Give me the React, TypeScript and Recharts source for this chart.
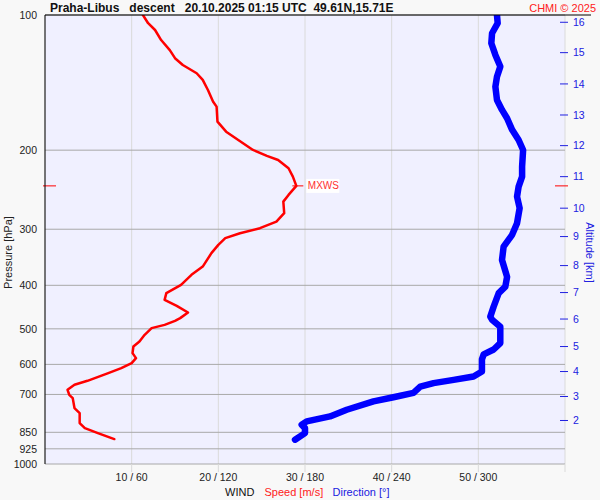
import React from 'react';
import {
  ScatterChart,
  Scatter,
  XAxis,
  YAxis,
  CartesianGrid,
  ReferenceLine,
  ReferenceDot,
} from 'recharts';

// Wind speed profile (pressure hPa -> speed m/s)
const speedLevels = [
  100, 104.3, 108.0, 113.7, 119.7, 124.8, 129.2, 134.8, 139.5, 146.9, 156.0, 160.0, 172.8,
  181.9, 189.8, 199.8, 206.0, 210.3, 219.4, 229.1, 240.2, 251.6, 260.4, 276.3, 288.5, 298.4,
  306.2, 314.1, 325.1, 339.2, 363.3, 379.1, 399.0, 416.4, 430.9, 444.4, 459.9, 473.3, 480.0,
  489.9, 498.2, 515.6, 533.6, 547.5, 566.4, 581.0, 596.1, 611.6, 627.5, 652.7, 666.2, 683.5,
  701.2, 713.2, 750.7, 770.2, 810.7, 831.8, 853.4, 880.0,
];
const speedValues = [
  11.3, 11.9, 12.7, 13.4, 14.4, 15.0, 15.9, 17.5, 18.2, 18.8, 19.4, 19.8, 19.9,
  20.9, 22.3, 24.0, 25.6, 26.9, 28.1, 28.6, 29.0, 28.1, 27.5, 27.6, 26.7, 24.8,
  22.5, 20.8, 20.0, 19.2, 18.2, 16.9, 15.7, 14.0, 13.8, 15.2, 16.5, 15.6, 15.0,
  13.8, 12.3, 11.5, 10.9, 10.2, 10.1, 10.5, 10.0, 8.8, 7.3, 4.9, 3.4, 2.6,
  2.8, 3.2, 3.4, 4.0, 4.0, 4.6, 6.1, 8.0,
];

// Wind direction profile (pressure hPa -> direction deg)
const dirLevels = [
  100, 104.3, 109.8, 115.6, 122.7, 130.3, 137.2, 144.4, 154.6, 162.7, 169.8, 180.2, 189.8,
  199.8, 217.6, 229.1, 241.1, 253.8, 269.2, 290.8, 308.7, 327.9, 351.2, 383.0, 402.6, 416.4,
  446.2, 469.6, 477.4, 494.6, 537.8, 555.8, 570.1, 584.7, 622.3, 638.3, 649.6, 660.6, 672.2,
  694.1, 710.2, 725.2, 757.2, 783.5, 803.7, 817.5, 832.0, 853.4, 882.8,
];
const dirValues = [
  312.9, 313.4, 309.5, 309.0, 311.8, 315.2, 312.9, 311.8, 312.9, 316.4, 319.9, 323.4, 327.9,
  331.0, 330.3, 330.3, 327.9, 326.8, 328.6, 326.8, 323.4, 317.5, 316.4, 319.9, 318.7, 314.1,
  310.6, 308.3, 309.5, 315.2, 315.2, 310.6, 303.7, 302.5, 302.5, 296.7, 282.9, 269.0, 259.8,
  255.1, 241.2, 227.4, 208.9, 197.3, 181.2, 177.7, 180.0, 180.0, 173.1,
];

const pressureTicks = [100, 200, 300, 400, 500, 600, 700, 850, 925, 1000];
const speedTicks = [10, 20, 30, 40, 50, 60];
const speedTickLabels = ['10 / 60', '20 / 120', '30 / 180', '40 / 240', '50 / 300', ''];
const altitudeKm = [2, 3, 4, 5, 6, 7, 8, 9, 10, 11, 12, 13, 14, 15, 16];
const altitudePressure = [
  800.0, 707.4, 622.4, 547.5, 475.5, 415.1, 361.5, 311.5, 269.3, 229.1, 195.4, 167.0, 142.4,
  121.3, 103.8,
];
const mxwsPressure = 240.2;
const mxwsSpeed = 29.0;

const speedData = speedLevels.map((p, i) => ({ p, s: speedValues[i] }));
const dirData = dirLevels.map((p, i) => ({ p, d: dirValues[i] }));

const BLUE_TEXT = '#2020e0';
const FONT = '"Liberation Sans", Arial, Helvetica, sans-serif';

const AltTick = (props: any) => {
  const { x, y, payload } = props;
  let idx = 0;
  let best = Infinity;
  altitudePressure.forEach((p, i) => {
    const d = Math.abs(p - payload.value);
    if (d < best) {
      best = d;
      idx = i;
    }
  });
  return (
    <g>
      <line x1={x - 13} x2={x - 5} y1={y} y2={y} stroke={BLUE_TEXT} strokeWidth={1} />
      <text x={x} y={y} dy="0.36em" fill={BLUE_TEXT} fontSize={10.5} textAnchor="start">
        {altitudeKm[idx]}
      </text>
    </g>
  );
};

const MxwsShape = (props: any) => {
  const { cx, cy } = props;
  return (
    <g>
      <line x1={cx - 4} x2={cx + 7} y1={cy} y2={cy} stroke="#ff0000" strokeWidth={1} />
      <rect x={cx + 10} y={cy - 7} width={33} height={14} fill="#ffffff" />
      <text x={cx + 11.5} y={cy} dy="0.36em" fill="#ff3030" fontSize={10}>
        MXWS
      </text>
    </g>
  );
};

const MxwsEdges = (props: any) => {
  const { x1, x2, y1 } = props;
  return (
    <g>
      <line x1={x1 - 2} x2={x1 + 11} y1={y1} y2={y1} stroke="#ff0000" strokeWidth={1} />
      <line x1={x2 - 10} x2={x2 + 3} y1={y1} y2={y1} stroke="#ff0000" strokeWidth={1} />
    </g>
  );
};

export default function App() {
  return (
    <div
      style={{
        position: 'absolute',
        left: 0,
        top: 0,
        width: 600,
        height: 500,
        background: '#f8f8f8',
        fontFamily: FONT,
      }}
    >
      <ScatterChart width={600} height={500} margin={{ top: 15, right: 0, bottom: 0, left: 0 }}>
        <CartesianGrid
          xAxisId="spd"
          yAxisId="p"
          horizontal={false}
          stroke="#dadada"
          fill="#f0f0ff"
          fillOpacity={1}
        />
        <CartesianGrid xAxisId="spd" yAxisId="p" vertical={false} stroke="#a8a8a8" />
        <XAxis
          xAxisId="spd"
          dataKey="s"
          type="number"
          domain={[0, 60]}
          ticks={speedTicks}
          interval={0}
          allowDataOverflow
          tickFormatter={(v: number) => speedTickLabels[speedTicks.indexOf(v)] ?? ''}
          axisLine={false}
          tickLine={{ stroke: '#dadada' }}
          tickSize={8}
          tickMargin={2}
          tick={{ fill: '#222', fontSize: 10.5 }}
          height={36}
        />
        <XAxis
          xAxisId="dir"
          dataKey="d"
          type="number"
          domain={[0, 360]}
          allowDataOverflow
          hide
          height={0}
        />
        <YAxis
          yAxisId="p"
          dataKey="p"
          type="number"
          scale="log"
          domain={[100, 1000]}
          reversed
          allowDataOverflow
          ticks={pressureTicks}
          interval={0}
          axisLine={{ stroke: '#000' }}
          tickLine={false}
          tick={{ fill: '#222', fontSize: 10.5 }}
          width={45}
        />
        <YAxis
          yAxisId="alt"
          dataKey="p"
          orientation="right"
          type="number"
          scale="log"
          domain={[100, 1000]}
          reversed
          allowDataOverflow
          ticks={altitudePressure}
          interval={0}
          axisLine={false}
          tickLine={false}
          tick={<AltTick />}
          width={35}
        />
        <Scatter
          xAxisId="dir"
          yAxisId="p"
          data={dirData}
          fill="#0000ff"
          line={{ stroke: '#0000ff', strokeWidth: 6.5, strokeLinejoin: 'round', strokeLinecap: 'round' }}
          shape={() => <g />}
          isAnimationActive={false}
          legendType="none"
        />
        <Scatter
          xAxisId="spd"
          yAxisId="p"
          data={speedData}
          fill="#ff0000"
          line={{ stroke: '#ff0000', strokeWidth: 2.5, strokeLinejoin: 'round', strokeLinecap: 'round' }}
          shape={() => <g />}
          isAnimationActive={false}
          legendType="none"
        />
        <ReferenceLine
          xAxisId="spd"
          yAxisId="p"
          y={mxwsPressure}
          ifOverflow="visible"
          shape={(props: any) => <MxwsEdges {...props} />}
        />
        <ReferenceDot
          xAxisId="spd"
          yAxisId="p"
          x={mxwsSpeed}
          y={mxwsPressure}
          ifOverflow="visible"
          shape={(props: any) => <MxwsShape {...props} />}
        />
      </ScatterChart>
      <svg
        width={600}
        height={500}
        style={{ position: 'absolute', left: 0, top: 0, pointerEvents: 'none', fontFamily: FONT }}
      >
        <line x1={45} x2={591} y1={15} y2={15} stroke="#000" strokeWidth={1.2} />
        <text x={50} y={11.5} fontSize={12} fontWeight="bold" fill="#111" style={{ whiteSpace: 'pre' }}>
          {'Praha-Libus   descent   20.10.2025 01:15 UTC  49.61N,15.71E'}
        </text>
        <text x={596} y={11.5} fontSize={11} fill="#ff2020" textAnchor="end">
          CHMI © 2025
        </text>
        <text
          x={0}
          y={0}
          fontSize={11}
          fill="#222"
          textAnchor="middle"
          dominantBaseline="central"
          transform="translate(8,252.5) rotate(-90)"
        >
          Pressure [hPa]
        </text>
        <text
          x={0}
          y={0}
          fontSize={11}
          fill={BLUE_TEXT}
          textAnchor="middle"
          dominantBaseline="central"
          transform="translate(589.5,252.5) rotate(90)"
        >
          Altitude [km]
        </text>
        <text x={225} y={495.5} fontSize={11} fill="#111">
          WIND
        </text>
        <text x={264.5} y={495.5} fontSize={11} fill="#ff2020">
          Speed [m/s]
        </text>
        <text x={332.5} y={495.5} fontSize={11} fill={BLUE_TEXT}>
          Direction [°]
        </text>
      </svg>
    </div>
  );
}
